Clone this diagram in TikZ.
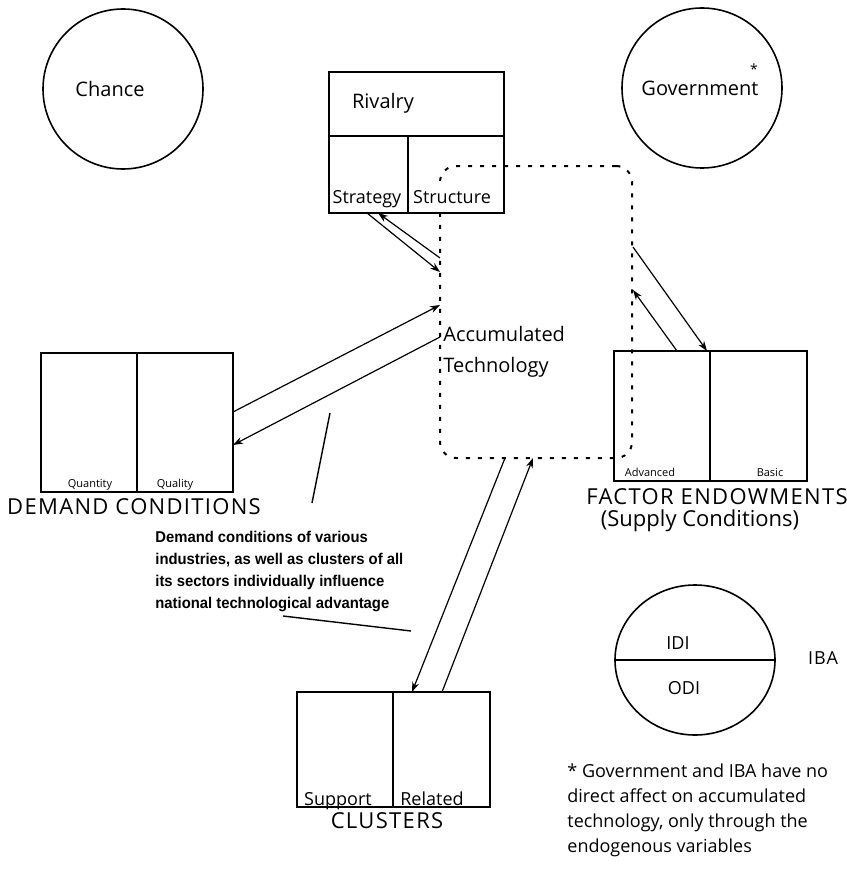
\documentclass[tikz,border=0pt]{standalone}
\usepackage{fontspec}
\setmainfont{Open Sans}
\newfontfamily\capsfont[LetterSpace=6]{Open Sans}
\newfontfamily\notefont[FakeStretch=0.95]{Liberation Sans}
\usetikzlibrary{arrows.meta,shapes.geometric}

\tikzset{
  cell/.style={draw, rectangle, line width=0.9pt, inner sep=0pt},
  ring/.style={draw, circle, line width=0.8pt, minimum size=80pt, inner sep=0pt},
  techbox/.style={draw, rectangle, rounded corners=8pt, line width=1pt,
    dash pattern=on 2pt off 4pt},
  flow/.style={line width=0.6pt, -{Stealth[length=5pt,width=3.5pt]}},
  pointer/.style={line width=0.7pt},
  tiny/.style={anchor=base, font=\fontsize{5.5}{6}\selectfont},
  small/.style={anchor=base, font=\fontsize{9}{10}\selectfont, inner sep=1pt},
  caps/.style={font=\capsfont\fontsize{11}{13}\selectfont}
}

\begin{document}
\begin{tikzpicture}[x=0.5pt,y=-0.5pt,font=\fontsize{10}{12}\selectfont]
    \useasboundingbox (0,0) rectangle (846,883);

    % outer circles
    \node[ring] (chance) at (123,89) {};
    \node[ring] (gov) at (702,88) {};
    \node[ring, ellipse, minimum width=80pt, minimum height=75pt] (iba) at (695,660) {};
    \draw[line width=0.8pt] (iba.west) -- (iba.east);

    % accumulated technology
    \node[techbox, minimum width=96pt, minimum height=146pt] (tech) at (536,312) {};

    % rivalry, strategy, structure
    \node[cell, minimum width=87.5pt, minimum height=32pt] (rivtop) at (416.5,104) {};
    \node[cell, minimum width=39.5pt, minimum height=38.5pt] (strat) at (368.5,174.5) {};
    \node[cell, minimum width=48pt, minimum height=38.5pt] (struc) at (456,174.5) {};

    % demand conditions
    \node[cell, minimum width=48pt, minimum height=69.5pt] (quant) at (89,422.5) {};
    \node[cell, minimum width=48pt, minimum height=69.5pt] (qual) at (185,422.5) {};

    % factor endowments
    \node[cell, minimum width=48pt, minimum height=65pt] (adv) at (662,416) {};
    \node[cell, minimum width=48.5pt, minimum height=65pt] (basic) at (758.5,416) {};

    % clusters
    \node[cell, minimum width=48pt, minimum height=57.5pt] (supp) at (345,749.5) {};
    \node[cell, minimum width=48.5pt, minimum height=57.5pt] (rel) at (441.5,749.5) {};

    % labels
    \node (chancetxt) at (110,89) {Chance};
    \node (govtxt) at (700,88) {Government};
    \node[font=\fontsize{7}{8}\selectfont] (govstar) at (754,69) {*};
    \node[anchor=west] (rivtxt) at (345,103) {Rivalry};
    \node[small] (strattxt) at (367,203) {Strategy};
    \node[small, fill=white] (structxt) at (452,203) {Structure};
    \node[anchor=west, align=left, inner sep=0pt, font=\fontsize{10}{15.5}\selectfont] (techtxt) at (443,352) {Accumulated\\Technology};
    \node[tiny] (quanttxt) at (90,487) {Quantity};
    \node[tiny] (qualtxt) at (175,487) {Quality};
    \node[caps] (demtxt) at (134,507) {DEMAND CONDITIONS};
    \node[tiny] (advtxt) at (650,476) {Advanced};
    \node[tiny] (basictxt) at (770,476) {Basic};
    \node[caps] (factxt) at (717,497) {FACTOR ENDOWMENTS};
    \node[font=\fontsize{11}{13}\selectfont] (supplytxt) at (700,521) {(Supply Conditions)};
    \node[small] (supptxt) at (338,805) {Support};
    \node[small] (reltxt) at (432,805) {Related};
    \node[caps] (clustxt) at (387,821) {CLUSTERS};
    \node[font=\fontsize{9}{10}\selectfont] (iditxt) at (678,643) {IDI};
    \node[font=\fontsize{9}{10}\selectfont] (oditxt) at (684,688) {ODI};
    \node[font=\capsfont\fontsize{9}{10}\selectfont] (ibatxt) at (823,658) {IBA};
    \node[anchor=north west, align=left, inner sep=0pt,
      font=\notefont\bfseries\fontsize{7.8}{11}\selectfont] (notetxt) at (155,531)
      {Demand conditions of various\\industries, as well as clusters of all\\its sectors individually influence\\national technological advantage};
    \node[anchor=north west, align=left, inner sep=0pt,
      font=\fontsize{9}{12.5}\selectfont] (foottxt) at (567,763)
      {* Government and IBA have no\\direct affect on accumulated\\technology, only through the\\endogenous variables};

    % connector ends
    \coordinate (sA) at (367,213);
    \coordinate (sB) at (378,213);
    \coordinate (tA) at (440,272);
    \coordinate (tB) at (440,258);
    \coordinate (dA) at (233,412);
    \coordinate (dB) at (233,445);
    \coordinate (tC) at (440,305);
    \coordinate (tD) at (440,337);
    \coordinate (tE) at (633,247);
    \coordinate (tF) at (633,290);
    \coordinate (fA) at (707,351);
    \coordinate (fB) at (677,351);
    \coordinate (tG) at (505,458);
    \coordinate (tH) at (533,458);
    \coordinate (cA) at (412,692);
    \coordinate (cB) at (442,692);
    \coordinate (pA) at (330,413);
    \coordinate (pB) at (312,503);
    \coordinate (pC) at (283,616);
    \coordinate (pD) at (411,631);

    \draw (sA) edge[flow] (tA);
    \draw (tB) edge[flow] (sB);
    \draw (dA) edge[flow] (tC);
    \draw (tD) edge[flow] (dB);
    \draw (tE) edge[flow] (fA);
    \draw (fB) edge[flow] (tF);
    \draw (tG) edge[flow] (cA);
    \draw (cB) edge[flow] (tH);

    \draw (pA) edge[pointer] (pB);
    \draw (pC) edge[pointer] (pD);
\end{tikzpicture}
\end{document}
